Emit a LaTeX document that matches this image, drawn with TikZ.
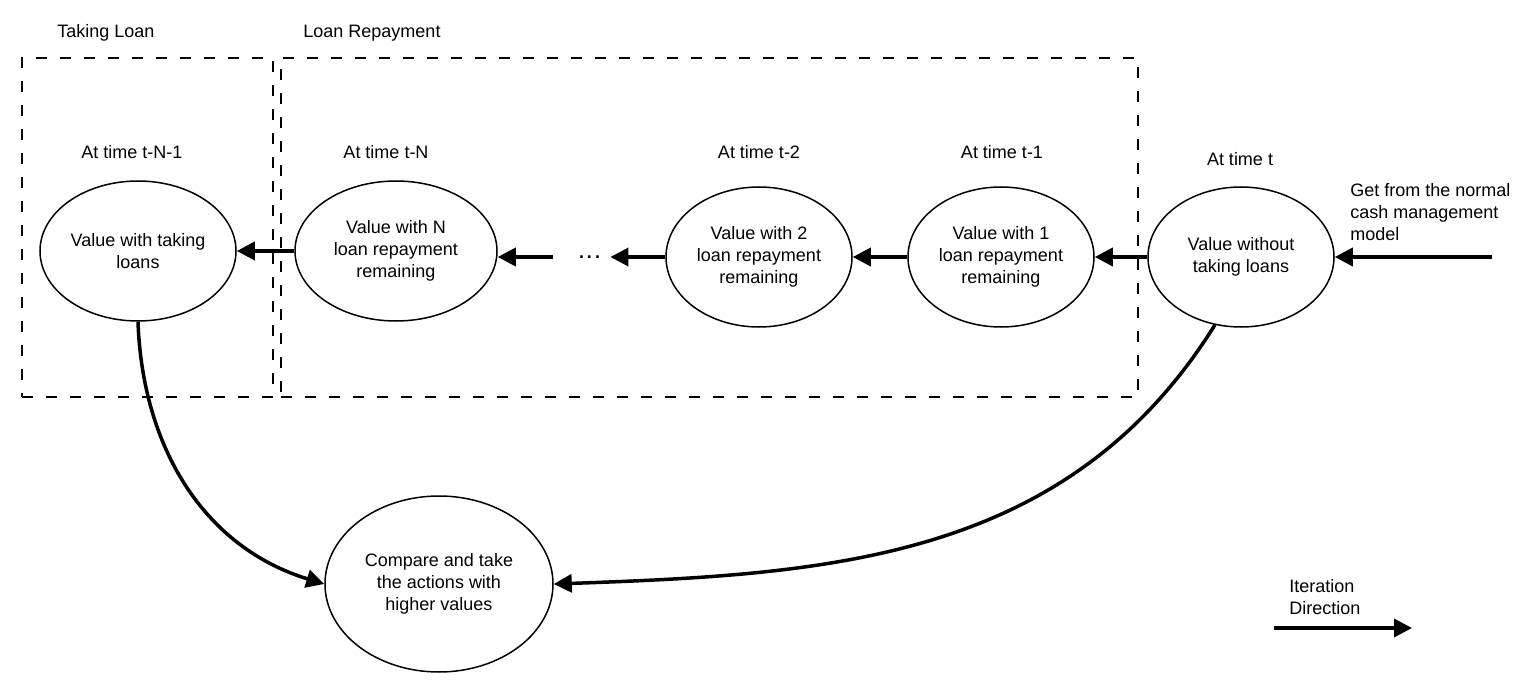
\documentclass[tikz,border=0pt]{standalone}
\usepackage{fontspec}
\setmainfont{Liberation Sans}
\usetikzlibrary{arrows.meta, positioning, shapes.geometric}

\begin{document}
\begin{tikzpicture}[
        x=0.5pt, y=0.5pt,
        font=\fontsize{9}{11}\selectfont,
        state/.style={ellipse, draw, line width=0.75pt, inner sep=0pt, align=center, minimum width=93pt, minimum height=70pt},
        group/.style={rectangle, draw, dash pattern=on 5.5pt off 6.5pt, line width=0.75pt, inner sep=0pt, minimum height=169.5pt},
        tag/.style={inner sep=0pt, align=left},
        line/.style={draw, line width=1.75pt, -{Triangle[length=9pt, width=9pt]}}
    ]
    \useasboundingbox (0,0) rectangle (1528,687);

    % groups
    \node[group, minimum width=125.5pt] (take_group) at (147.5,459.5) {};
    \node[group, minimum width=428.5pt] (repay_group) at (709.5,459.5) {};
    \node[tag] at (106,654) {Taking Loan};
    \node[tag] at (372,654) {Loan Repayment};

    % states
    \node[state, minimum width=98pt] (taking) at (138,436) {Value with taking\\loans};
    \node[state, minimum width=101pt] (rem_n) at (396,436) {Value with N\\loan repayment\\remaining};
    \node[inner sep=0pt, minimum width=28.5pt] (dots) at (581.5,430) {\hspace{8pt}\textbf{.\,.\,.}};
    \node[state] (rem_2) at (759,430) {Value with 2\\loan repayment\\remaining};
    \node[state] (rem_1) at (1001,430) {Value with 1\\loan repayment\\remaining};
    \node[state] (no_loan) at (1241,430) {Value without\\taking loans};
    \node[state, minimum width=114pt, minimum height=88pt] (compare) at (439,103) {Compare and take\\the actions with\\higher values};

    \node[tag] at (132,535) {At time t-N-1};
    \node[tag] at (386,535) {At time t-N};
    \node[tag] at (759,535) {At time t-2};
    \node[tag] at (1002,535) {At time t-1};
    \node[tag] at (1240,528) {At time t};
    \node[tag, anchor=west] at (1350,475) {Get from the normal\\cash management\\model};
    \node[tag, anchor=west] at (1289,90) {Iteration\\Direction};

    \coordinate (source) at (1492,430);
    \coordinate (iter_start) at (1274,59);
    \coordinate (iter_end) at (1412,59);

    % connections
    \path [line] (source) -- (no_loan);
    \path [line] (no_loan) -- (rem_1);
    \path [line] (rem_1) -- (rem_2);
    \path [line] (rem_2) -- (dots);
    \path [line] (dots.west) -- (dots.west -| rem_n.east);
    \path [line] (rem_n) -- (taking);
    \path [line] (taking.south) to[out=-88, in=163] (compare.west);
    \path [line] (no_loan.-111) to[out=-122, in=2] (compare.east);
    \path [line] (iter_start) -- (iter_end);

\end{tikzpicture}
\end{document}
